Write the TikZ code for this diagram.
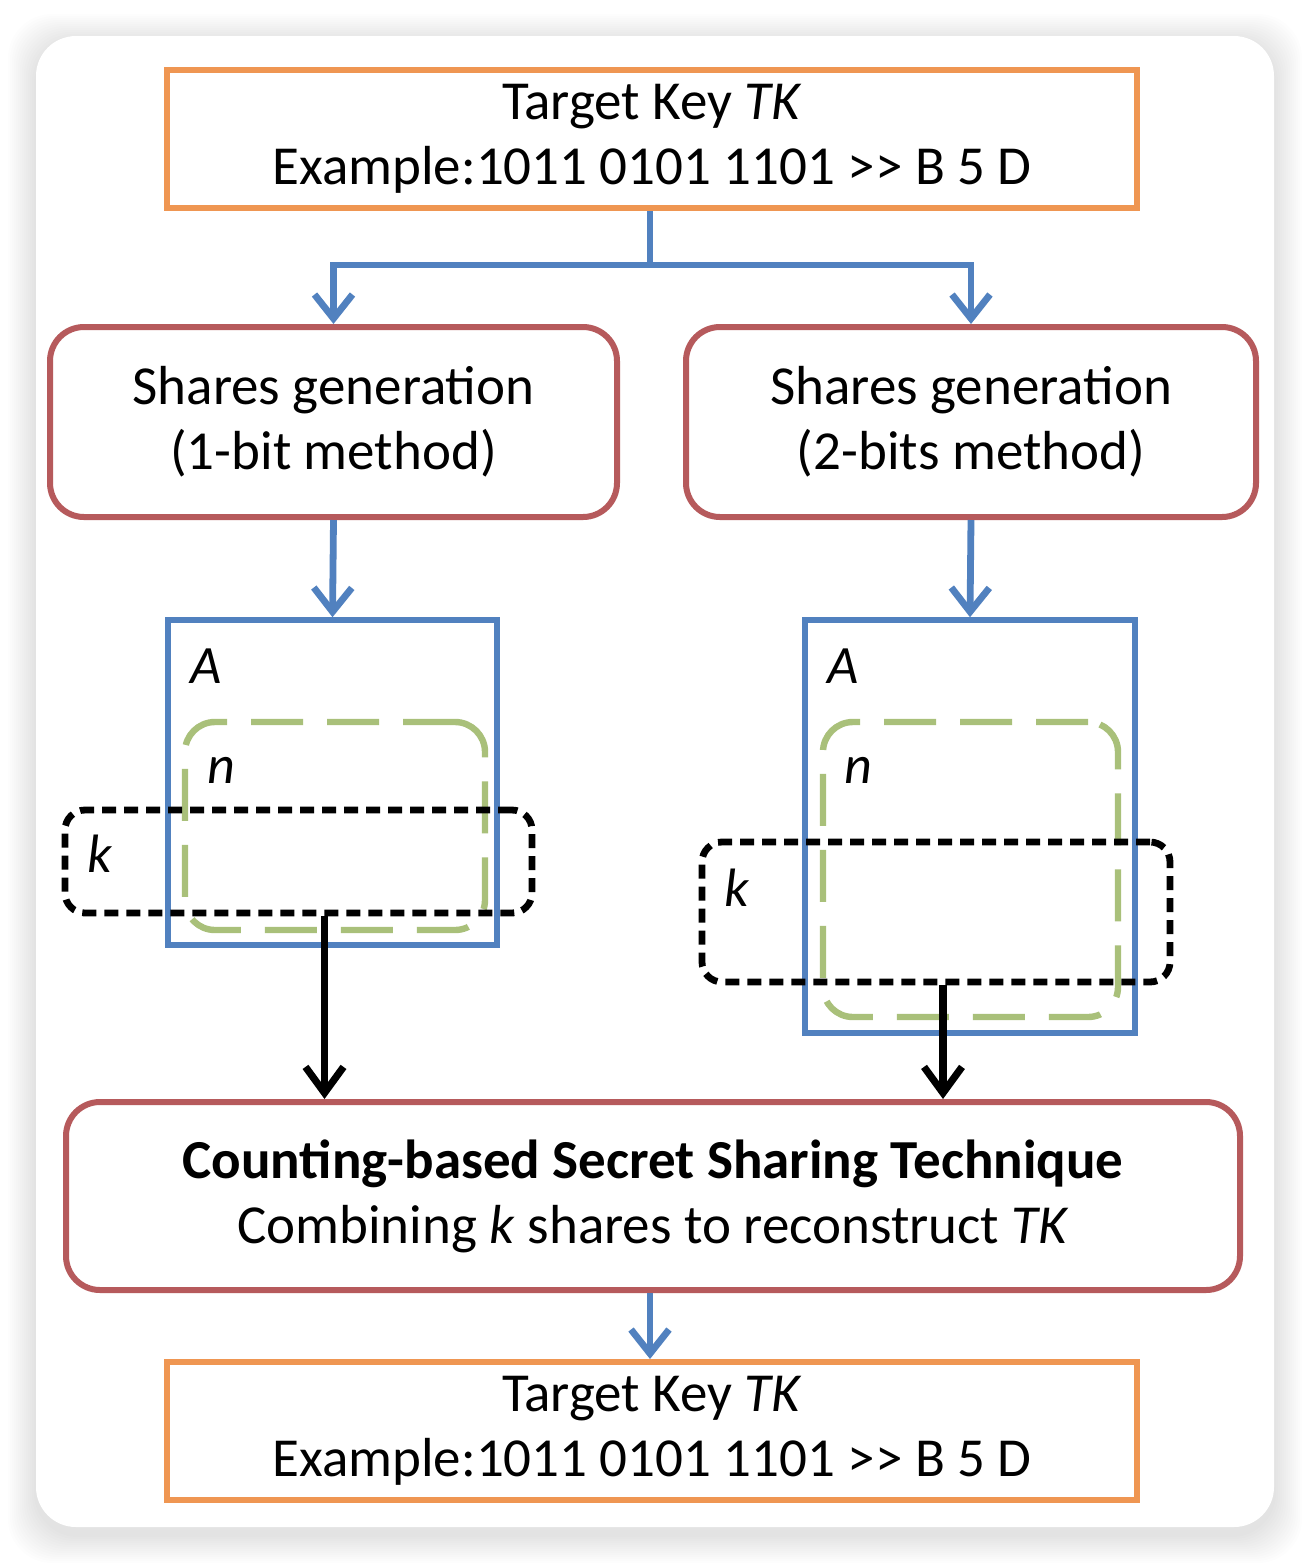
\documentclass[tikz,border=0pt]{standalone}
\usepackage{fontspec}
\setmainfont{Carlito}
\usetikzlibrary{arrows.meta,positioning}

\definecolor{keyorange}{HTML}{EF9652}
\definecolor{genred}{HTML}{B65A5C}
\definecolor{setblue}{HTML}{5181BF}
\definecolor{ngreen}{HTML}{A9C07A}

\newcommand{\gtgt}{>\kern0pt>}

\tikzset{
  keybox/.style={draw=keyorange, line width=3pt, minimum width=485pt, minimum height=69pt, align=center},
  genbox/.style={draw=genred, line width=3pt, rounded corners=17pt, minimum height=95pt, align=center},
  setbox/.style={draw=setblue, line width=2.8pt},
  nbox/.style={draw=ngreen, line width=3.2pt, rounded corners=15pt, dash pattern=on 26pt off 12pt},
  kbox/.style={draw=black, line width=3.4pt, rounded corners=10pt, dash pattern=on 7pt off 4pt},
  flow/.style={draw=setblue, line width=3.4pt},
  flowarrow/.style={flow, -{Straight Barb[length=12pt,width=19pt]}},
  pick/.style={draw=black, line width=3.6pt, -{Straight Barb[length=13pt,width=19pt]}},
  setlabel/.style={font=\fontsize{27}{30}\selectfont\itshape, inner sep=0pt}
}

\begin{document}
\begin{tikzpicture}[x=0.5pt, y=-0.5pt, font=\fontsize{27.5}{32.5}\selectfont]
 \useasboundingbox (0,0) rectangle (1310,1564);
 % card with soft shadow
 \fill[white] (0,0) rectangle (1310,1564);
 \foreach \s in {1,...,14}
   \fill[black, opacity=0.007, rounded corners=22pt] (36-2*\s,36-2*\s+6) rectangle (1274+2*\s,1527+2*\s+8);
 \fill[white, rounded corners=20pt] (36,36) rectangle (1274,1527);

 \node (tk)   [keybox] at (652,139) {Target Key \textit{TK}\\Example:1011 0101 1101 \gtgt\ B 5 D};
 \node (gen1) [genbox, minimum width=283.5pt] at (333.5,422) {Shares generation\\(1-bit method)};
 \node (gen2) [genbox, minimum width=285pt] at (971,422) {Shares generation\\(2-bits method)};

 \node (setA1) [setbox, minimum width=164.5pt, minimum height=162.5pt] at (332.5,782.5) {};
 \node (setN1) [nbox, minimum width=150pt, minimum height=104pt] at (335,826) {};
 \node (setK1) [kbox, minimum width=233.5pt, minimum height=51.5pt] at (298.5,861.5) {};
 \node (lblA1) [setlabel] at (206,666) {A};
 \node (lblN1) [setlabel] at (221,770) {n};
 \node (lblK1) [setlabel] at (100,854) {k};

 \node (setA2) [setbox, minimum width=165pt, minimum height=206.5pt] at (970,826.5) {};
 \node (setN2) [nbox, minimum width=147.5pt, minimum height=147.5pt] at (970.5,869.5) {};
 \node (setK2) [kbox, minimum width=234pt, minimum height=70pt] at (936,912) {};
 \node (lblA2) [setlabel] at (843,666) {A};
 \node (lblN2) [setlabel] at (858,770) {n};
 \node (lblK2) [setlabel] at (737,888) {k};

 \node (count) [genbox, minimum width=587pt, minimum height=94pt] at (653,1196)
   {\textbf{Counting-based Secret Sharing Technique}\\Combining \textit{k} shares to reconstruct \textit{TK}};
 \node (tk2)  [keybox] at (652,1431) {Target Key \textit{TK}\\Example:1011 0101 1101 \gtgt\ B 5 D};

 \coordinate (split) at (650,265);
 \draw[flow] (tk.south -| split) -- (split);
 \draw[flowarrow] (split) -| (gen1.north);
 \draw[flowarrow] (split) -| (gen2.north);
 \draw[flowarrow] (gen1.south) -- (setA1.north);
 \draw[flowarrow] (gen2.south) -- (setA2.north);
 \draw[pick] ([xshift=13pt]setK1.south) -- ([xshift=13pt]setK1.south |- count.north);
 \draw[pick] ([xshift=3.5pt]setK2.south) -- ([xshift=3.5pt]setK2.south |- count.north);
 \draw[flowarrow] (count.south -| split) -- (tk2.north -| split);
\end{tikzpicture}
\end{document}
